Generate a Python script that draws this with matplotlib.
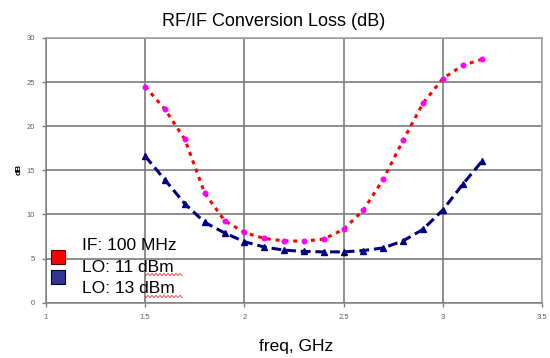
import matplotlib
matplotlib.use('Agg')
import matplotlib.pyplot as plt
import numpy as np
from matplotlib.patches import Rectangle

plt.rcParams['font.family'] = ['Liberation Sans', 'DejaVu Sans']

# frequency points, GHz
freq = [1.5, 1.6, 1.7, 1.8, 1.9, 2.0, 2.1, 2.2, 2.3,
        2.4, 2.5, 2.6, 2.7, 2.8, 2.9, 3.0, 3.1, 3.2]
# conversion loss, dB
loss_lo11 = [24.5, 21.9, 18.5, 12.4, 9.3, 7.95, 7.27, 7.0, 6.97,
             7.2, 8.3, 10.5, 14.0, 18.4, 22.6, 25.4, 26.9, 27.6]
loss_lo13 = [16.6, 13.9, 11.2, 9.1, 7.9, 6.9, 6.3, 5.95, 5.8,
             5.75, 5.75, 5.9, 6.2, 7.0, 8.3, 10.5, 13.4, 16.1]

legend_lines = ['IF: 100 MHz', 'LO: 11 dBm', 'LO: 13 dBm']
xticks = [1, 1.5, 2, 2.5, 3, 3.5]
xticklabels = ['1', '1.5', '2', '2.5', '3', '3.5']
yticks = [0, 5, 10, 15, 20, 25, 30]

fig = plt.figure(figsize=(5.5, 3.58), dpi=100)
ax = fig.add_axes([46 / 550, 1 - 302.6 / 358, 496 / 550, 264.6 / 358])

ax.plot(freq, loss_lo11, color='red', lw=2.2, dashes=(1.3, 1.6),
        marker='o', ms=3.3, mfc='#ff00ff', mec='#ff00ff', zorder=3)
ax.plot(freq, loss_lo13, color='#000080', lw=2.2, dashes=(3.2, 1.6),
        marker='^', ms=3.8, mfc='#000080', mec='#000080', zorder=3)

ax.set_xlim(1, 3.5)
ax.set_ylim(0, 30)
ax.set_xticks(xticks)
ax.set_xticklabels(xticklabels)
ax.set_yticks(yticks)
ax.grid(True, color='#7a7a7a', lw=1.2)
ax.set_axisbelow(True)
ax.tick_params(labelsize=5.5, labelcolor='#606060', colors='#808080',
               length=3, width=1, pad=5)
for s in ax.spines.values():
    s.set_color('#a0a0a0')
    s.set_linewidth(1.1)
ax.spines['left'].set_color('#808080')
ax.spines['bottom'].set_color('#808080')

fig.text(274 / 550, 1 - 21 / 358, 'RF/IF Conversion Loss (dB)',
         ha='center', va='center', fontsize=13)
fig.text(296 / 550, 1 - 347 / 358, 'freq, GHz',
         ha='center', va='center', fontsize=12.5)
fig.text(19 / 550, 1 - 169 / 358, 'dB', rotation=90,
         ha='center', va='center', fontsize=6, fontweight='bold')

# legend drawn by hand: two colour boxes beside three text lines
fig.patches.append(Rectangle((51 / 550, 1 - 264 / 358), 14 / 550, 14 / 358,
                             transform=fig.transFigure, facecolor='#ff0000',
                             edgecolor='#600000', lw=0.8))
fig.patches.append(Rectangle((51 / 550, 1 - 284 / 358), 14 / 550, 14 / 358,
                             transform=fig.transFigure, facecolor='#333399',
                             edgecolor='#000020', lw=0.8))
for i, t in enumerate(legend_lines):
    fig.text(82 / 550, 1 - (245.5 + 21.5 * i) / 358, t,
             ha='left', va='center', fontsize=12.5)

# red spell-check squiggles under "dBm"
sx = np.linspace(145, 182, 60)
for yy in [274.5, 296.5]:
    sy = yy + 1.0 * np.sin((sx - 145) * 2 * np.pi / 4)
    fig.add_artist(plt.Line2D(sx / 550, 1 - sy / 358, color='#e03030', lw=0.6,
                              transform=fig.transFigure))

fig.savefig('out.png', dpi=100)
